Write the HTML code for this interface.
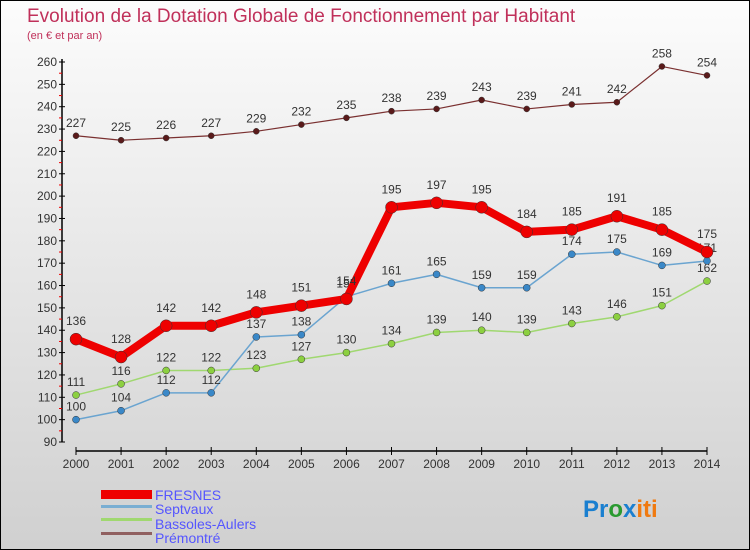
<!DOCTYPE html>
<html><head><meta charset="utf-8"><style>
body{margin:0}
#c{width:748px;height:548px;border:1px solid #000;background:linear-gradient(#fcfcfc,#d0d0d0);position:relative;overflow:hidden;font-family:"Liberation Sans",sans-serif}
</style></head><body>
<div id="c">
<svg id="s" width="748" height="548" xmlns="http://www.w3.org/2000/svg">
<text x="26" y="21" font-size="19" fill="#c0305a">Evolution de la Dotation Globale de Fonctionnement par Habitant</text>
<text x="26" y="38" font-size="11" fill="#c0305a">(en € et par an)</text>
<g id="axes"></g><g id="series"></g>
<g>
<rect x="100" y="489" width="51" height="9" fill="#e00"/>
<text x="154" y="499" font-size="14" fill="#55f">FRESNES</text>
<rect x="100" y="504" width="51" height="3" fill="#7aaed2"/>
<text x="154" y="513" font-size="14" fill="#55f">Septvaux</text>
<rect x="100" y="517" width="51" height="3" fill="#a0d870"/>
<text x="154" y="528" font-size="14" fill="#55f">Bassoles-Aulers</text>
<rect x="100" y="531" width="51" height="3" fill="#906060"/>
<text x="154" y="542" font-size="14" fill="#55f">Prémontré</text>
</g>
<text x="582" y="516" font-size="24" font-weight="bold"><tspan fill="#1a7fd0">Pr</tspan><tspan fill="#2a9a30">o</tspan><tspan fill="#1a7fd0">x</tspan><tspan fill="#f07a10">iti</tspan></text>
</svg></div>
<script>
const years=[2000,2001,2002,2003,2004,2005,2006,2007,2008,2009,2010,2011,2012,2013,2014];
const yTicks=[90,100,110,120,130,140,150,160,170,180,190,200,210,220,230,240,250,260];
const fresnes=[136,128,142,142,148,151,154,195,197,195,184,185,191,185,175];
const septvaux=[100,104,112,112,137,138,155,161,165,159,159,174,175,169,171];
const bassoles=[111,116,122,122,123,127,130,134,139,140,139,143,146,151,162];
const premontre=[227,225,226,227,229,232,235,238,239,243,239,241,242,258,254];
const NS="http://www.w3.org/2000/svg";
const xS=i=>75+i*(706-75)/14;
const yS=v=>441-(v-90)*(441-61)/170;
function mk(t,a,p){const e=document.createElementNS(NS,t);for(const k in a)e.setAttribute(k,a[k]);p.appendChild(e);return e;}
const ax=document.getElementById('axes'),sg=document.getElementById('series');
const yl=mk('line',{x1:61,y1:58,x2:61,y2:441,stroke:'#000','stroke-width':1.5},ax);

yTicks.forEach((v,k)=>{const y=yS(v);
mk('line',{x1:58,y1:y,x2:64,y2:y,stroke:'#000'},ax);
if(k>0)mk('line',{x1:58,y1:y+11.2,x2:61,y2:y+11.2,stroke:'#e00'},ax);
const t=mk('text',{x:56,y:y+4,'font-size':12,fill:'#333','text-anchor':'end'},ax);t.textContent=v;
});
const xl=mk('line',{x1:75,y1:450,x2:706,y2:450,stroke:'#000','stroke-width':1.5},ax);

years.forEach((yr,i)=>{const x=xS(i);
mk('line',{x1:x,y1:446,x2:x,y2:454,stroke:'#000'},ax);
const t=mk('text',{x:x,y:467,'font-size':12,fill:'#333','text-anchor':'middle'},ax);t.textContent=yr;
});
function series(data,name,col,w,r,dot,labCol,off){
const g=mk('g',{},sg);
const l=mk('polyline',{points:data.map((v,i)=>xS(i)+','+yS(v)).join(' '),fill:'none',stroke:col,'stroke-width':w,'stroke-linejoin':'round'},g);

data.forEach((v,i)=>{const c=mk('circle',{cx:xS(i),cy:yS(v),r:r,fill:dot,stroke:'#333','stroke-width':0.5},g);

const t=mk('text',{x:xS(i),y:yS(v)-off,'font-size':12,fill:labCol,'text-anchor':'middle'},g);t.textContent=v;
});}
series(premontre,'premontre','#7a3030',1.2,3,'#5a1a1a','#333',9);
series(bassoles,'bassoles-aulers','#a0d870',1.5,3.5,'#8cd040','#333',9);
series(septvaux,'septvaux','#6aa4d0',1.5,3.5,'#3a88c8','#333',9);
series(fresnes,'fresnes','#e00',8,6,'#e00','#333',14);
</script></body></html>
